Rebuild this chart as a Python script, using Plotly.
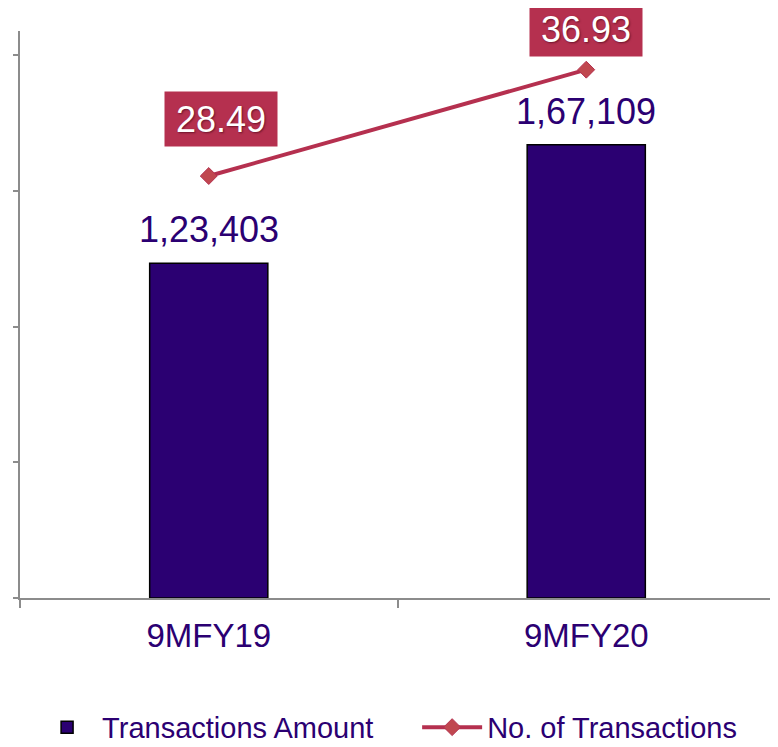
import plotly.graph_objects as go

periods = ["9MFY19", "9MFY20"]
txn_amount = [123403, 167109]
txn_count = [28.49, 36.93]

INDIGO = "#2B0072"
CRIMSON = "#B5304F"
AXIS = "#8C8C8C"


def indian_fmt(n):
    s = str(int(n))
    if len(s) <= 3:
        return s
    head, tail = s[:-3], s[-3:]
    parts = []
    while len(head) > 2:
        parts.insert(0, head[-2:])
        head = head[:-2]
    if head:
        parts.insert(0, head)
    return ",".join(parts) + "," + tail


fig = go.Figure()
fig.add_trace(go.Bar(
    x=periods, y=txn_amount, name="Transactions Amount",
    marker=dict(color=INDIGO, line=dict(color="black", width=1.5)),
    width=0.313, legend="legend",
))
fig.add_trace(go.Scatter(
    x=periods, y=txn_count, name="No. of Transactions", yaxis="y2",
    mode="lines+markers",
    line=dict(color=CRIMSON, width=4),
    marker=dict(symbol="diamond", size=13, color="#C0474F", line=dict(color=CRIMSON, width=1)),
    legend="legend2",
))

# value labels above the bars
for p, v in zip(periods, txn_amount):
    fig.add_annotation(x=p, y=v, text=indian_fmt(v), showarrow=False,
                       yanchor="bottom", yshift=11,
                       font=dict(size=36, color=INDIGO, family="Liberation Sans, Arial"))

# boxed labels above the line points
box_shift = [57, 41]
box_xshift = [12, 0]
for p, v, dy, dx in zip(periods, txn_count, box_shift, box_xshift):
    fig.add_annotation(x=p, y=v, yref="y2", text=f"{v:.2f}", showarrow=False,
                       yshift=dy, xshift=dx, width=110, height=52,
                       bgcolor=CRIMSON,
                       font=dict(size=36, color="white", family="Liberation Sans, Arial",
                                 shadow="1px 1px 2px rgba(60,0,20,0.6)"))

legend_style = dict(orientation="h", y=-0.228, xanchor="left", yanchor="middle",
                    font=dict(size=29, color=INDIGO), itemwidth=60,
                    bgcolor="rgba(0,0,0,0)")

# page body adds an 8px offset, so the figure is made 8px smaller
fig.update_layout(
    width=770, height=739,
    margin=dict(l=12, r=3, t=23, b=149, autoexpand=False),
    paper_bgcolor="white", plot_bgcolor="white",
    font=dict(family="Liberation Sans, Arial", color=INDIGO),
    showlegend=True,
    legend=dict(x=0.016, **legend_style),
    legend2=dict(x=0.526, **legend_style),
    xaxis=dict(range=[-0.5, 1.5], showline=True, linecolor=AXIS, linewidth=1.5,
               ticks="outside", tickson="boundaries", ticklen=8, tickcolor=AXIS,
               tickwidth=1.5, tickfont=dict(size=33, color=INDIGO),
               ticklabelstandoff=8, showgrid=False, zeroline=False),
    yaxis=dict(range=[0, 209000], dtick=50000, showticklabels=False,
               showline=True, linecolor=AXIS, linewidth=1.5,
               ticks="outside", ticklen=5, tickcolor=AXIS, tickwidth=1.5,
               showgrid=False, zeroline=False),
    yaxis2=dict(range=[-5, 40], dtick=5, overlaying="y", side="right",
                showticklabels=False, showline=True, linecolor=AXIS, linewidth=1.5,
                ticks="outside", ticklen=5, tickcolor=AXIS, tickwidth=1.5,
                showgrid=False, zeroline=False),
)

fig.write_html("out.html")
